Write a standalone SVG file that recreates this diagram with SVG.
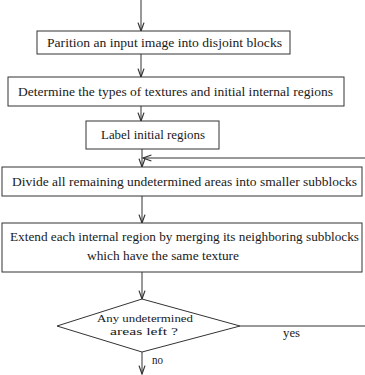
<svg xmlns="http://www.w3.org/2000/svg" width="365" height="375" viewBox="0 0 365 375">
<style>
.box{fill:#fff;stroke:#333;stroke-width:1}
.ln{fill:none;stroke:#333;stroke-width:1}
.t{font-family:"Liberation Serif","DejaVu Serif",serif;font-size:13.5px;fill:#1a1a1a}
.s{font-size:12px}
.d{font-size:11px}
</style>
<defs>
<marker id="ah" markerUnits="userSpaceOnUse" markerWidth="12" markerHeight="12" refX="0" refY="0" viewBox="-8 -5 10 10" orient="auto">
<path d="M-7,-2.5 L0,0 L-7,2.5" fill="none" stroke="#333" stroke-width="1"/>
</marker>
</defs>
<rect width="365" height="375" fill="#fff"/>
<g id="connectors">
<line class="ln" x1="141" y1="0" x2="141" y2="31" marker-end="url(#ah)"/>
<line class="ln" x1="141" y1="54" x2="141" y2="77" marker-end="url(#ah)"/>
<line class="ln" x1="141" y1="106" x2="141" y2="121" marker-end="url(#ah)"/>
<line class="ln" x1="142" y1="149" x2="142" y2="167" marker-end="url(#ah)"/>
<line class="ln" x1="365" y1="158" x2="143" y2="158" marker-end="url(#ah)"/>
<line class="ln" x1="142" y1="196" x2="142" y2="223" marker-end="url(#ah)"/>
<line class="ln" x1="142" y1="272" x2="142" y2="299" marker-end="url(#ah)"/>
<line class="ln" x1="240" y1="326" x2="365" y2="326"/>
<line class="ln" x1="142" y1="352" x2="142" y2="374" marker-end="url(#ah)"/>
<text class="t s" x="283" y="337" textLength="17" lengthAdjust="spacingAndGlyphs">yes</text>
<text class="t s" x="152" y="364" textLength="11" lengthAdjust="spacingAndGlyphs">no</text>
</g>
<g id="n1">
<rect class="box" x="37" y="31" width="253" height="23"/>
<text class="t" x="47" y="47" textLength="235" lengthAdjust="spacingAndGlyphs">Parition an input image into disjoint blocks</text>
</g>
<g id="n2">
<rect class="box" x="8" y="77" width="336" height="29"/>
<text class="t" x="18" y="96" textLength="315" lengthAdjust="spacingAndGlyphs">Determine the types of textures and initial internal regions</text>
</g>
<g id="n3">
<rect class="box" x="86" y="121" width="133" height="28"/>
<text class="t" x="101" y="139" textLength="104" lengthAdjust="spacingAndGlyphs">Label initial regions</text>
</g>
<g id="n4">
<rect class="box" x="2" y="167" width="360" height="29"/>
<text class="t" x="12" y="186" textLength="345" lengthAdjust="spacingAndGlyphs">Divide all remaining undetermined areas into smaller subblocks</text>
</g>
<g id="n5">
<rect class="box" x="2" y="223" width="360" height="49"/>
<text class="t" x="10" y="241" textLength="349" lengthAdjust="spacingAndGlyphs">Extend each internal region by merging its neighboring subblocks</text>
<text class="t" x="87" y="260" textLength="152" lengthAdjust="spacingAndGlyphs">which have the same texture</text>
</g>
<g id="n6">
<polygon class="box" points="57,326 142,299 240,326 142,352"/>
<text class="t d" x="97" y="322" textLength="96" lengthAdjust="spacingAndGlyphs">Any undetermined</text>
<text class="t d" x="110" y="335" textLength="68" lengthAdjust="spacingAndGlyphs">areas left ?</text>
</g>
</svg>
